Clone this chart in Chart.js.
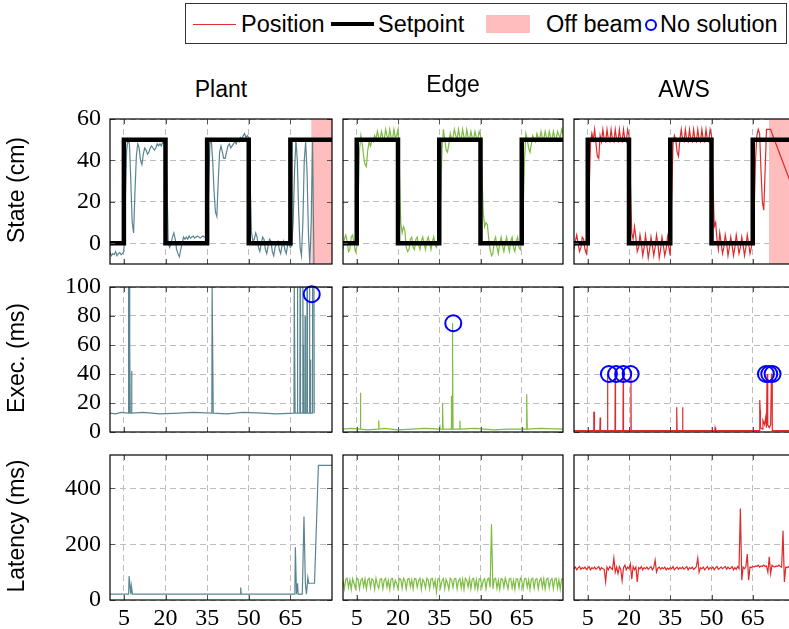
<!DOCTYPE html>
<html>
<head>
<meta charset="utf-8">
<script src="https://cdn.jsdelivr.net/npm/chart.js@4.4.1/dist/chart.umd.min.js"></script>
<style>
  html, body { margin: 0; padding: 0; background: #fff; overflow: hidden; }
  #wrap { position: relative; width: 789px; height: 629px; overflow: hidden; font-family: "Liberation Sans", sans-serif; }
  .cell { position: absolute; }
  .lbl { position: absolute; font-size: 23px; line-height: 23px; color: #000; white-space: nowrap; }
  .ylbl { position: absolute; font-size: 23px; line-height: 23px; color: #000; white-space: nowrap; transform: translate(-50%, -50%) rotate(-90deg); }
  #legend { position: absolute; left: 185px; top: 3px; width: 602px; height: 41px; border: 1px solid #333; box-sizing: border-box; }
  .lg { position: absolute; font-size: 23.5px; line-height: 24px; top: 8px; color: #000; white-space: nowrap; }
  .sw { position: absolute; }
</style>
</head>
<body>
<div id="wrap">
  <div id="legend"></div>
</div>
<script>
// eixo x comum (tempo, s)
const t = [
  0, 0.5, 1, 1.5, 2, 2.5, 3, 3.5, 4, 4.5,
  5, 5.5, 6, 6.5, 7, 7.5, 8, 8.5, 9, 9.5,
  10, 10.5, 11, 11.5, 12, 12.5, 13, 13.5, 14, 14.5,
  15, 15.5, 16, 16.5, 17, 17.5, 18, 18.5, 19, 19.5,
  20, 20.5, 21, 21.5, 22, 22.5, 23, 23.5, 24, 24.5,
  25, 25.5, 26, 26.5, 27, 27.5, 28, 28.5, 29, 29.5,
  30, 30.5, 31, 31.5, 32, 32.5, 33, 33.5, 34, 34.5,
  35, 35.5, 36, 36.5, 37, 37.5, 38, 38.5, 39, 39.5,
  40, 40.5, 41, 41.5, 42, 42.5, 43, 43.5, 44, 44.5,
  45, 45.5, 46, 46.5, 47, 47.5, 48, 48.5, 49, 49.5,
  50, 50.5, 51, 51.5, 52, 52.5, 53, 53.5, 54, 54.5,
  55, 55.5, 56, 56.5, 57, 57.5, 58, 58.5, 59, 59.5,
  60, 60.5, 61, 61.5, 62, 62.5, 63, 63.5, 64, 64.5,
  65, 65.5, 66, 66.5, 67, 67.5, 68, 68.5, 69, 69.5,
  70, 70.5, 71, 71.5, 72, 72.5, 73, 73.5, 74, 74.5,
  75, 75.5, 76, 76.5, 77, 77.5, 78, 78.5, 79, 79.5,
  80
];

const xTicks = [5, 20, 35, 50, 65];
const columns = ["Plant", "Edge", "AWS"];
const rows = ["State (cm)", "Exec. (ms)", "Latency (ms)"];
const legendLabels = ["Position", "Setpoint", "Off beam", "No solution"];

// setpoint (degraus)
const setX = [0, 5, 20, 35, 50, 65, 80];
const setY = [0, 50, 0, 50, 0, 50, 50];

// posição (cm)
const plantPos = [
  -4.5, -6, -5, -5.5, -4, -6, -5, -4.5, -5.5, -5,
  -4, 20, 45, 50, 48, 30, 10, 5, 25, 42,
  48, 46, 40, 38, 43, 46, 45, 43, 44, 46,
  47, 46, 45, 46, 48, 47, 48, 47, 49, 48,
  49, 30, 0, -2, 0, 3, 5, 2, -3, -5,
  -6.5, -3, 0, 3, 2, 3, 2, 3.5, 2.5, 3,
  3.5, 2.5, 3, 3.5, 3, 2.5, 3, 3.5, 3, 2.5,
  3, 25, 48, 50, 40, 25, 15, 13, 30, 44,
  47, 44, 41, 41, 44, 47, 48, 46, 47, 48,
  49, 48, 50, 49, 51, 50, 52, 53, 51, 52,
  51, 30, 5, 1, 2, 5, 3, -2, -4, 0,
  3, 2, -3, -5, -1, 2, 1, -4, -6, -2,
  0, 1, -3, -5, -1, 1, -3, -5, -1, 0,
  -2, -1, 10, 35, 50, 40, 15, -2, -6, 10,
  40, 49, 35, 5, -10, 10, 49, -10, null, null,
  null, null, null, null, null, null, null, null, null, null,
  null
];

const edgePos = [
  -3, 2, 4, 1, -4, -3, 3, 4, 0, -4,
  -2, 20, 45, 52, 48, 42, 38, 37, 45, 49,
  47, 50, 49, 52, 50, 54, 51, 50, 54, 51,
  50, 55, 52, 50, 55, 51, 50, 55, 51, 52,
  55, 35, 10, 5, 8, 6, -2, -4, -3, 2,
  3, -2, -3, 2, 3, -1, -3, 1, 3, 0,
  -3, 1, 3, 0, -3, 1, 3, -1, -2, 2,
  1, 20, 45, 55, 50, 45, 44, 48, 53, 50,
  51, 55, 52, 50, 55, 51, 50, 55, 51, 50,
  55, 51, 50, 54, 51, 50, 54, 51, 50, 54,
  52, 35, 15, 8, 10, 9, 2, -3, -6, -5,
  1, 3, -2, -5, 0, 3, -1, -4, 0, 3,
  -1, -4, 1, 3, -2, -4, 1, 3, -2, -3,
  1, 15, 40, 53, 50, 46, 44, 48, 52, 50,
  49, 53, 51, 50, 54, 51, 50, 54, 51, 50,
  54, 51, 50, 54, 51, 50, 54, 52, 51, 55,
  53
];

const awsPos = [
  -3, 1, 4, 0, -4, -2, 3, 2, -3, -5,
  0, 25, 48, 53, 50, 55, 48, 42, 41, 52,
  49, 55, 50, 49, 55, 50, 49, 55, 50, 49,
  55, 50, 49, 55, 50, 49, 55, 50, 49, 55,
  52, 30, 5, 2, 8, 3, -4, -2, 4, 0,
  -6, -2, 4, -1, -7, -3, 3, -1, -6, -2,
  4, 0, -7, -3, 3, -1, -6, -3, 3, -2,
  -6, 20, 48, 52, 50, 44, 42, 50, 55, 50,
  49, 55, 50, 49, 55, 50, 49, 55, 50, 49,
  55, 50, 49, 55, 50, 49, 55, 50, 49, 55,
  52, 30, 8, 10, 2, -3, 5, 0, -5, -2,
  4, 0, -6, -2, 3, -1, -6, -2, 4, 0,
  -5, -2, 3, -1, -6, -2, 4, 0, -5, -2,
  2, 15, 40, 52, 55, 53, 35, 20, 16, 35,
  55, 55, 55, 55, 53, null, null, null, null, null,
  null, null, null, null, null, null, null, null, null, null,
  25
];

// faixa fora do feixe (início, fim)
const plantOff = [72.5, 80];
const awsOff = [70.9, 80];

// tempo de execução (ms)
const plantExecX = [0, 2, 4, 6.6, 6.7, 6.9, 7.0, 7.1, 7.2, 7.3, 7.7, 7.75, 7.85, 7.9, 12, 18, 25, 30,
  36.7, 36.8, 37.1, 37.2, 42, 48, 55, 60, 66.3, 66.4, 66.6, 66.7, 67.4, 67.5, 67.6, 67.7,
  68.4, 68.5, 68.6, 68.7, 69.4, 69.5, 69.6, 69.7, 70.2, 70.3, 70.4, 70.9, 71.0, 71.1, 71.2,
  71.8, 71.9, 72.0, 72.2, 72.3, 72.9, 73.0, 73.5, 73.6];
const plantExecY = [13, 12.5, 13.5, 13, 100, 100, 13, 100, 60, 13, 13, 42, 42, 13, 13.5, 12.5, 13, 13.5,
  13, 100, 100, 13, 12.5, 13.5, 13, 12.5, 13, 100, 100, 13, 13, 80, 100, 13,
  13, 100, 60, 13, 13, 100, 60, 13, 13, 80, 13, 13, 100, 50, 13,
  13, 100, 13, 50, 13, 13, 100, 100, 13];

const edgeExecX = [0, 3, 6.2, 6.3, 6.4, 6.5, 9, 12.9, 13, 13.1, 15, 20, 25, 30, 35.1, 35.2, 35.3,
  36, 36.1, 36.3, 36.4, 39.3, 39.4, 39.5, 39.7, 39.8, 39.9, 40, 42.4, 42.5, 42.6,
  48, 55, 60, 66.6, 66.7, 66.9, 67, 72, 80];
const edgeExecY = [2, 2.5, 2, 25, 27, 2, 1.5, 2, 8, 2, 2.5, 1.5, 2, 2.5, 2, 5, 2,
  2, 20, 17, 2, 2, 25, 2, 2, 75, 56, 2, 2, 8, 2,
  2.5, 1.5, 2, 2, 26, 25, 2, 2.5, 2];

const awsExecX = [0, 7.1, 7.2, 7.3, 7.4, 7.5, 9.4, 9.5, 9.6, 9.7, 12.1, 12.2, 12.3, 14.9, 15, 15.1,
  17.8, 17.9, 18, 20.6, 20.7, 20.8, 37.2, 37.3, 37.4, 37.5, 39.4, 39.5, 39.6, 51.2, 51.3, 51.5, 51.6,
  67.4, 67.5, 67.6, 67.7, 67.8, 68.5, 68.7, 69.3, 69.7, 70, 70.2, 70.4, 70.5, 71, 71.5, 71.8, 72, 72.1, 80];
const awsExecY = [1, 1, 14, 12, 14, 1, 1, 10, 10, 1, 1, 40, 1, 1, 40, 1,
  1, 40, 1, 1, 40, 1, 1, 17, 15, 1, 1, 17, 1, 1, 3, 3, 1,
  1, 10, 22, 15, 3, 2, 8, 5, 10, 3, 40, 40, 5, 3, 5, 40, 40, 1, 1];

// sem solução
const plantNoSolX = [72.7];
const plantNoSolY = [95];
const edgeNoSolX = [40.1];
const edgeNoSolY = [75];
const awsNoSolX = [12.7, 15.3, 17.9, 20.6, 69.8, 71.0, 72.2];
const awsNoSolY = [40, 40, 40, 40, 40, 40, 40];

// latência (ms)
const plantLatX = [0, 6.7, 6.9, 7.3, 7.5, 7.7, 7.9, 8.1, 46.9, 47.1, 47.3, 66.6, 66.8, 67.2, 67.6, 67.8,
  69.3, 69.9, 70.4, 70.8, 71.3, 71.6, 73.7, 75.1, 80];
const plantLatY = [21, 21, 86, 40, 21, 50, 50, 21, 21, 45, 21, 21, 189, 21, 60, 21,
  21, 299, 60, 21, 80, 60, 60, 483, 483];

const edgeLat = [
  70, 40, 75, 78, 45, 72, 38, 76, 60, 42,
  78, 74, 40, 70, 77, 48, 75, 39, 72, 78,
  45, 76, 70, 38, 78, 55, 42, 75, 77, 40,
  72, 78, 46, 70, 38, 76, 78, 44, 71, 60,
  40, 77, 75, 42, 78, 70, 39, 74, 78, 48,
  73, 40, 77, 76, 45, 70, 78, 38, 74, 65,
  42, 78, 72, 40, 76, 78, 47, 71, 28, 75,
  78, 44, 70, 77, 40, 74, 60, 38, 78, 72,
  45, 76, 78, 40, 70, 77, 43, 74, 38, 78,
  71, 46, 77, 40, 75, 78, 42, 72, 39, 76,
  78, 44, 70, 77, 40, 74, 78, 45, 272, 40,
  75, 78, 42, 70, 38, 77, 74, 45, 78, 60,
  40, 76, 78, 43, 71, 39, 77, 75, 44, 78,
  70, 40, 76, 78, 46, 72, 38, 75, 78, 42,
  73, 77, 40, 70, 78, 45, 76, 39, 74, 78,
  44, 71, 77, 40, 75, 78, 42, 72, 38, 76,
  74
];

const awsLat = [
  112, 118, 108, 115, 120, 110, 116, 112, 118, 110,
  114, 120, 108, 116, 112, 118, 110, 115, 120, 108,
  116, 112, 110, 65, 118, 108, 120, 114, 110, 150,
  100, 118, 95, 120, 110, 70, 116, 125, 108, 118,
  112, 130, 75, 120, 108, 118, 65, 116, 112, 120,
  108, 116, 112, 118, 110, 115, 120, 108, 116, 143,
  100, 114, 118, 110, 116, 112, 118, 108, 114, 110,
  116, 112, 120, 108, 114, 118, 110, 116, 112, 118,
  110, 115, 120, 108, 116, 112, 118, 110, 114, 120,
  150, 100, 116, 112, 118, 108, 114, 120, 110, 116,
  112, 118, 108, 116, 120, 110, 114, 118, 112, 116,
  120, 110, 118, 112, 114, 120, 108, 116, 110, 120,
  112, 328, 71, 118, 112, 120, 165, 71, 118, 116,
  120, 118, 122, 120, 125, 118, 122, 120, 125, 120,
  122, 100, 155, 95, 125, 120, 118, 122, 120, 125,
  120, 118, 248, 65, 118, 116, 120, 115, 118, 116,
  118
];

const colors = ["#5a8590", "#7dbd42", "#dd2b2b"];

// geometria dos painéis
const colLeft = [110, 343, 574];
const colWidth = [222, 220, 220];
const rowTop = [119, 287, 455];
const rowHeight = 145;

const yRanges = [
  { min: -10, max: 60, ticks: [0, 20, 40, 60] },
  { min: 0, max: 100, ticks: [0, 20, 40, 60, 80, 100] },
  { min: 0, max: 520, ticks: [0, 200, 400] },
];

const wrap = document.getElementById("wrap");

function pares(xs, ys) {
  return xs.map((x, i) => ({ x: x, y: ys[i] }));
}

// moldura e marcas internas
const framePlugin = {
  id: "frame",
  afterDatasetsDraw(chart) {
    const ctx = chart.ctx;
    const a = chart.chartArea;
    const sx = chart.scales.x;
    const sy = chart.scales.y;
    ctx.save();
    ctx.strokeStyle = "#555";
    ctx.lineWidth = 1;
    ctx.beginPath();
    sx.ticks.forEach(function (tk) {
      const px = Math.round(sx.getPixelForValue(tk.value)) + 0.5;
      ctx.moveTo(px, a.bottom); ctx.lineTo(px, a.bottom - 5);
      ctx.moveTo(px, a.top); ctx.lineTo(px, a.top + 5);
    });
    sy.ticks.forEach(function (tk) {
      const py = Math.round(sy.getPixelForValue(tk.value)) + 0.5;
      ctx.moveTo(a.left, py); ctx.lineTo(a.left + 5, py);
      ctx.moveTo(a.right, py); ctx.lineTo(a.right - 5, py);
    });
    ctx.stroke();
    ctx.strokeStyle = "#000";
    ctx.lineWidth = 1.2;
    ctx.strokeRect(a.left, a.top, a.right - a.left, a.bottom - a.top);
    ctx.restore();
  },
};

function linha(data, color, width, order) {
  return {
    data: data, borderColor: color, borderWidth: width, pointRadius: 0,
    tension: 0, fill: false, order: order, spanGaps: true,
  };
}

function circulos(xs, ys) {
  return {
    data: pares(xs, ys), showLine: false, pointRadius: 8, pointStyle: "circle",
    pointBorderColor: "#0000ff", pointBorderWidth: 2, pointBackgroundColor: "rgba(0,0,0,0)",
    clip: false, order: 0,
  };
}

function faixa(range) {
  return {
    data: [{ x: range[0], y: 60 }, { x: range[1], y: 60 }], borderWidth: 0, pointRadius: 0,
    fill: "start", backgroundColor: "#ffbdbd", order: 3,
  };
}

function setpoint() {
  return {
    data: pares(setX, setY), borderColor: "#000", borderWidth: 4.5, pointRadius: 0,
    stepped: true, fill: false, order: 1,
  };
}

function montarDatasets(r, c) {
  if (r == 0) {
    const pos = [plantPos, edgePos, awsPos][c];
    const ds = [linha(pares(t, pos), colors[c], 1.2, 2), setpoint()];
    if (c == 0) ds.push(faixa(plantOff));
    if (c == 2) ds.push(faixa(awsOff));
    return ds;
  }
  if (r == 1) {
    if (c == 0) return [linha(pares(plantExecX, plantExecY), colors[0], 1.2, 2), circulos(plantNoSolX, plantNoSolY)];
    if (c == 1) return [linha(pares(edgeExecX, edgeExecY), colors[1], 1.2, 2), circulos(edgeNoSolX, edgeNoSolY)];
    return [linha(pares(awsExecX, awsExecY), colors[2], 1.2, 2), circulos(awsNoSolX, awsNoSolY)];
  }
  if (c == 0) return [linha(pares(plantLatX, plantLatY), colors[0], 1.2, 2)];
  if (c == 1) return [linha(pares(t, edgeLat), colors[1], 1.2, 2)];
  return [linha(pares(t, awsLat), colors[2], 1.2, 2)];
}

function criarPainel(r, c) {
  // margens maiores que o raio dos círculos, para o layout não encolher a área
  const yW = c == 0 ? 110 : 0;
  const padL = c == 0 ? 0 : 12;
  const padR = 12;
  const padT = 12;
  const xH = r == 2 ? 34 : 0;
  const padB = r == 2 ? 0 : 12;
  const w = padL + yW + colWidth[c] + padR;
  const h = padT + rowHeight + xH + padB;

  const div = document.createElement("div");
  div.className = "cell";
  div.style.left = colLeft[c] - yW - padL + "px";
  div.style.top = rowTop[r] - padT + "px";
  const canvas = document.createElement("canvas");
  canvas.width = w;
  canvas.height = h;
  canvas.style.width = w + "px";
  canvas.style.height = h + "px";
  div.appendChild(canvas);
  wrap.appendChild(div);

  const yr = yRanges[r];

  new Chart(canvas, {
    type: "line",
    data: { datasets: montarDatasets(r, c) },
    options: {
      responsive: false,
      animation: false,
      devicePixelRatio: 1,
      events: [],
      layout: { padding: { left: padL, right: padR, top: padT, bottom: padB } },
      plugins: { legend: { display: false }, tooltip: { enabled: false } },
      scales: {
        x: {
          type: "linear", min: 0, max: 80,
          afterBuildTicks: function (s) { s.ticks = xTicks.map(function (v) { return { value: v }; }); },
          afterFit: function (s) { s.height = xH; s.paddingLeft = 0; s.paddingRight = 0; },
          grid: { color: "#bdbdbd", lineWidth: 1, drawTicks: false },
          border: { display: false, dash: [6, 4] },
          ticks: {
            display: r == 2, padding: 4, color: "#000", maxRotation: 0, autoSkip: false,
            font: { family: "Liberation Serif", size: 24 },
          },
        },
        y: {
          type: "linear", min: yr.min, max: yr.max,
          afterBuildTicks: function (s) { s.ticks = yr.ticks.map(function (v) { return { value: v }; }); },
          afterFit: function (s) { s.width = yW; s.paddingTop = 0; s.paddingBottom = 0; },
          grid: { color: "#bdbdbd", lineWidth: 1, drawTicks: false },
          border: { display: false, dash: [6, 4] },
          ticks: {
            display: c == 0, padding: 9, color: "#000", autoSkip: false,
            font: { family: "Liberation Serif", size: 24 },
          },
        },
      },
    },
    plugins: [framePlugin],
  });
}

for (let r = 0; r < 3; r++) {
  for (let c = 0; c < 3; c++) {
    criarPainel(r, c);
  }
}

// legenda
const legend = document.getElementById("legend");
function addSw(style) {
  const el = document.createElement("span");
  el.className = "sw";
  el.style.cssText = style;
  legend.appendChild(el);
}
function addTxt(text, left) {
  const el = document.createElement("span");
  el.className = "lg";
  el.textContent = text;
  el.style.left = left + "px";
  legend.appendChild(el);
}
// posições relativas à caixa (x - 186)
addSw("left:7px;top:19.5px;width:43px;height:1.3px;background:#e03030");
addTxt(legendLabels[0], 55);
addSw("left:145px;top:18px;width:43px;height:4px;background:#000");
addTxt(legendLabels[1], 192);
addSw("left:300px;top:11px;width:44px;height:18px;background:#ffbdbd");
addTxt(legendLabels[2], 360);
addSw("left:459px;top:15px;width:8px;height:8px;border:2px solid #0000ff;border-radius:50%");
addTxt(legendLabels[3], 474);

// títulos das colunas
const titleTop = [78, 73, 78];
for (let c = 0; c < 3; c++) {
  const el = document.createElement("div");
  el.className = "lbl";
  el.textContent = columns[c];
  el.style.left = colLeft[c] + colWidth[c] / 2 + "px";
  el.style.top = titleTop[c] + "px";
  el.style.transform = "translateX(-50%)";
  wrap.appendChild(el);
}

// rótulos do eixo y
for (let r = 0; r < 3; r++) {
  const el = document.createElement("div");
  el.className = "ylbl";
  el.textContent = rows[r];
  el.style.left = "15.5px";
  el.style.top = rowTop[r] + rowHeight / 2 - 2 + "px";
  wrap.appendChild(el);
}
</script>
</body>
</html>
